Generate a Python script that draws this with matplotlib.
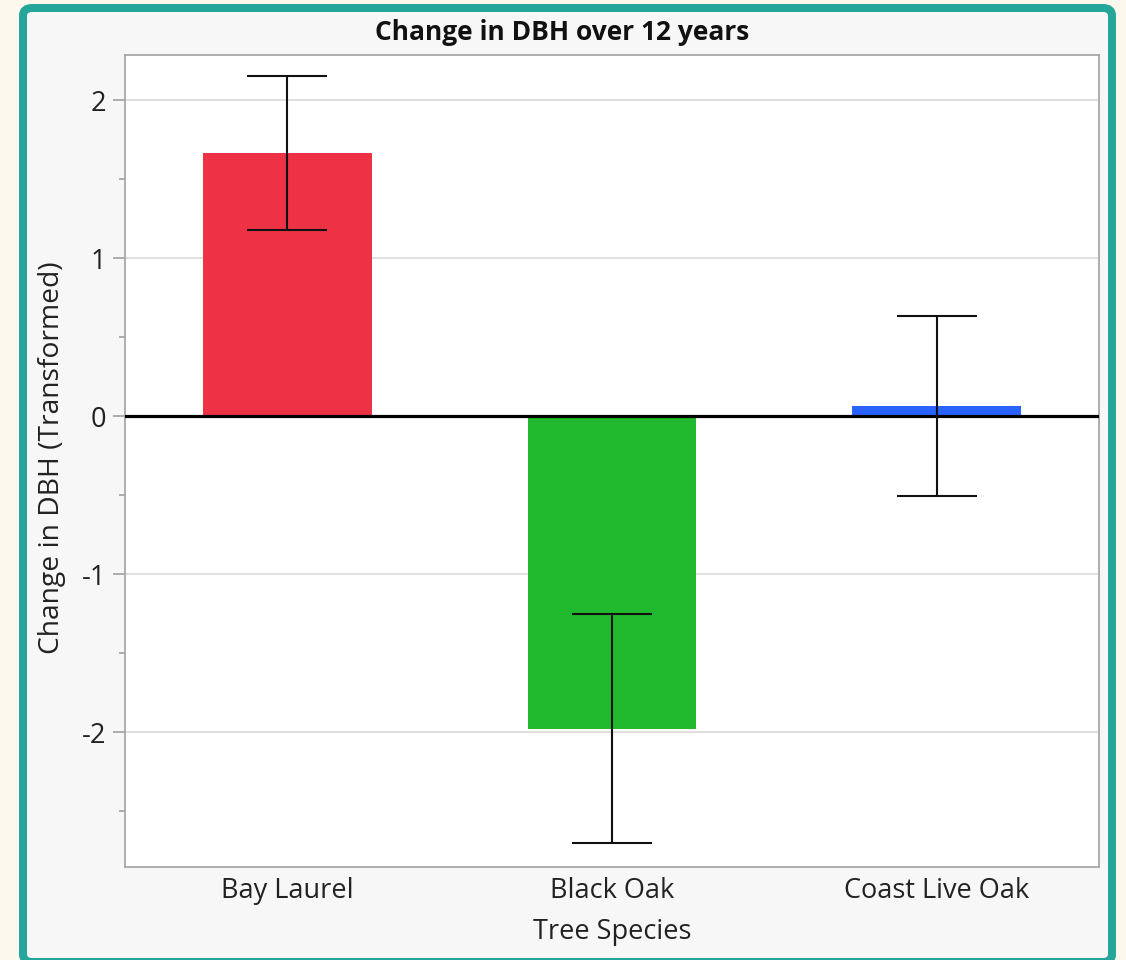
import matplotlib
matplotlib.use("Agg")
import matplotlib.pyplot as plt
from matplotlib.patches import FancyBboxPatch
from matplotlib.ticker import MultipleLocator

species = ["Bay Laurel", "Black Oak", "Coast Live Oak"]
mean_change = [1.665, -1.98, 0.065]
std_error = [0.485, 0.725, 0.57]
bar_colors = ["#EE3246", "#21BA2E", "#2862FF"]

plt.rcParams["font.family"] = ["Open Sans", "DejaVu Sans"]
plt.rcParams["axes.unicode_minus"] = False

W, H = 1126, 960
fig = plt.figure(figsize=(W / 100, H / 100), dpi=100)
fig.patch.set_facecolor("#FDF8EE")

def fx(px):
    return px / W

def fy(py):
    return 1 - py / H

# panel with teal frame
frame = FancyBboxPatch((fx(23), fy(962)), fx(1112) - fx(23), fy(8) - fy(962),
                       boxstyle="round,pad=0,rounding_size=0.008",
                       transform=fig.transFigure, facecolor="#F7F7F7",
                       edgecolor="#26A69A", linewidth=8 * 0.72, zorder=-5)
fig.patches.append(frame)

ax_l, ax_r, ax_t, ax_b = 125, 1099, 55, 867
ax = fig.add_axes([fx(ax_l), fy(ax_b), fx(ax_r) - fx(ax_l), fy(ax_t) - fy(ax_b)])
ax.set_zorder(2)
ax.set_facecolor("white")

x = list(range(len(species)))
ax.bar(x, mean_change, width=0.52, color=bar_colors, zorder=2)
ax.errorbar(x, mean_change, yerr=std_error, fmt="none", ecolor="#111111",
            elinewidth=1.5, capsize=28.8, capthick=1.5, zorder=4)
ax.axhline(0, color="black", linewidth=2.3, zorder=3)

ax.set_xlim(-0.5, 2.5)
ax.set_ylim(-2.854, 2.285)
ax.yaxis.set_major_locator(MultipleLocator(1))
ax.yaxis.set_minor_locator(MultipleLocator(0.5))
ax.grid(axis="y", which="major", color="#D9D9D9", linewidth=1.2, zorder=1)
ax.set_axisbelow(True)

ax.set_xticks(x)
ax.set_xticklabels(species)
ax.tick_params(axis="x", length=0, labelsize=19.5, pad=7, colors="#222222")
ax.tick_params(axis="y", which="major", length=8.5, width=1.2, color="#A0A0A0",
               labelsize=19.5, pad=5, labelcolor="#222222")
ax.tick_params(axis="y", which="minor", length=4.5, width=1.2, color="#A0A0A0")

for s in ax.spines.values():
    s.set_color("#A8A8A8")
    s.set_linewidth(1.3)

aw, ah = ax_r - ax_l, ax_b - ax_t
ax.set_xlabel("Tree Species", fontsize=19.5, color="#222222")
ax.xaxis.label.set_va("center")
ax.xaxis.set_label_coords(0.5, (ax_b - 932) / ah)
ax.set_ylabel("Change in DBH (Transformed)", fontsize=20.3, color="#222222")
ax.yaxis.label.set_va("center")
ax.yaxis.set_label_coords((52 - ax_l) / aw, (ax_b - 458) / ah)

fig.text(fx(562), fy(32), "Change in DBH over 12 years", ha="center", va="center",
         fontsize=19, fontweight="bold", color="#111111")

fig.savefig("out.png", dpi=100, facecolor=fig.get_facecolor())
